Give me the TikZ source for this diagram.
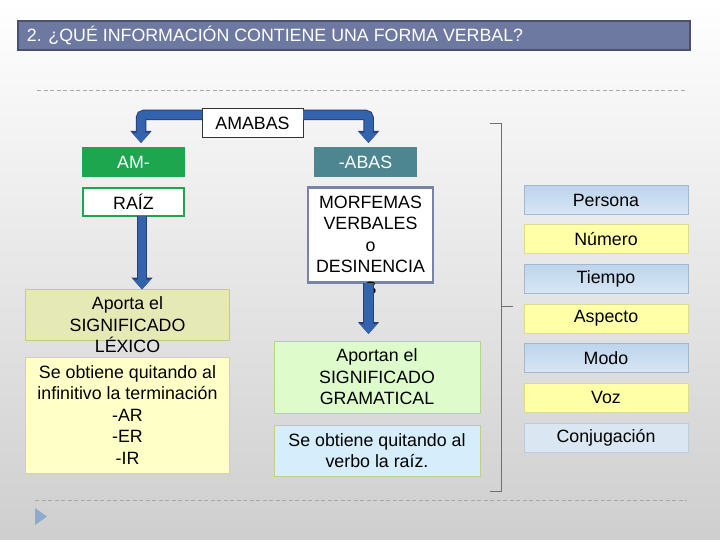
\documentclass[tikz,border=0pt]{standalone}
\usepackage{fontspec}
\setmainfont{Liberation Sans}
\usetikzlibrary{arrows.meta}
\definecolor{titlefill}{HTML}{6D79A1}
\definecolor{titledraw}{HTML}{4A506E}
\definecolor{arrowblue}{HTML}{3463AE}
\definecolor{arrowdark}{HTML}{2A3F78}
\definecolor{amgreen}{HTML}{1EA64F}
\definecolor{abasteal}{HTML}{4D8690}
\definecolor{slate}{HTML}{7A82A8}
\definecolor{lexfill}{HTML}{E5E9B6}
\definecolor{lexdraw}{HTML}{C5CC86}
\definecolor{yelfill}{HTML}{FFFFC8}
\definecolor{yeldraw}{HTML}{D4D68A}
\definecolor{gramfill}{HTML}{DEFCCB}
\definecolor{gramdraw}{HTML}{B5D58A}
\definecolor{skyfill}{HTML}{D6EDFB}
\definecolor{skydraw}{HTML}{BFCF86}
\definecolor{bluefillA}{HTML}{BDD4EC}
\definecolor{bluefillB}{HTML}{D8E6F4}
\definecolor{bluedraw}{HTML}{A0B8D2}
\definecolor{yellowbox}{HTML}{FFFFA8}
\definecolor{yellowdraw}{HTML}{DCDC8C}
\definecolor{conjfill}{HTML}{DAE6F1}
\definecolor{conjdraw}{HTML}{B8CDE0}
\definecolor{dashgray}{HTML}{A8A8A8}
\definecolor{brack}{HTML}{707070}
\definecolor{trifill}{HTML}{8FAACB}
\tikzset{
  every node/.style={inner sep=0pt, outer sep=0pt, font=\fontsize{17.8}{21.5}\selectfont},
  plainbox/.style={draw, rectangle, align=center},
  txt/.style={align=center, font=\fontsize{17.8}{21.5}\selectfont},
  bigarrow/.style={line width=8.5pt, arrowblue, rounded corners=3pt,
     -{Triangle[length=10pt,width=17pt]},
     preaction={draw=arrowdark, line width=10.5pt, -{Triangle[length=12pt,width=20.5pt]}}},
  bluebox/.style={draw=bluedraw, line width=0.8pt, top color=bluefillA, bottom color=bluefillB, shading angle=0, minimum width=164pt, minimum height=29pt},
  yelbox/.style={draw=yellowdraw, line width=0.8pt, fill=yellowbox, minimum width=164pt, minimum height=29pt},
}
\begin{document}
\begin{tikzpicture}[x=1pt,y=-1pt]
% background
\shade[top color=white, bottom color=black!19] (0,0) rectangle (720,540);
\useasboundingbox (0,0) rectangle (720,540);
% title
\node[draw=titledraw, line width=1.6pt, fill=titlefill, minimum width=672pt, minimum height=29pt, anchor=north west] (title) at (18,21) {};
\node[anchor=west, text=white, font=\fontsize{17.8}{20}\selectfont] (titletext) at (27,35.5) {2. ¿QUÉ INFORMACIÓN CONTIENE UNA FORMA VERBAL?};
% dashed lines
\coordinate (d1a) at (37,90); \coordinate (d1b) at (686,90);
\coordinate (d2a) at (35,500); \coordinate (d2b) at (687,500);
\draw[dashgray, dash pattern=on 4pt off 2.5pt, line width=0.7pt] (d1a) -- (d1b);
\draw[dashgray, dash pattern=on 4pt off 2.5pt, line width=0.7pt] (d2a) -- (d2b);
% triangle
\fill[trifill] (35,508) -- (47,516.5) -- (35,525) -- cycle;
% AMABAS
\node[plainbox, draw=black!80, fill=white, line width=0.8pt, minimum width=101pt, minimum height=29pt] (amabas) at (252.5,123) {AMABAS};
% AM- and -ABAS
\node[fill=amgreen, text=white, minimum width=103pt, minimum height=30pt] (am) at (133.5,162) {AM-};
\node[fill=abasteal, text=white, minimum width=103pt, minimum height=30pt] (abas) at (365.5,162) {-ABAS};
% arrows from AMABAS
\draw[bigarrow] ([yshift=8pt]amabas.west) -| ([xshift=7.5pt,yshift=4pt]am.north);
\draw[bigarrow] ([yshift=8pt]amabas.east) -| ([xshift=3pt,yshift=4pt]abas.north);
% RAIZ
\node[plainbox, draw=amgreen, fill=white, line width=2pt, minimum width=101pt, minimum height=28pt] (raiz) at (133.5,202) {RAÍZ};
% MORFEMAS box
\node[draw=slate, fill=white, line width=2.2pt, minimum width=125pt, minimum height=95pt] (morf) at (370.5,235) {};
% left boxes
\node[draw=lexdraw, fill=lexfill, line width=0.8pt, minimum width=204pt, minimum height=51pt] (lex) at (127.5,315) {};
\node[draw=yeldraw, fill=yelfill, line width=0.8pt, minimum width=204pt, minimum height=116pt, align=center] (inf) at (127.5,415) {Se obtiene quitando al\\infinitivo la terminación\\-AR\\-ER\\-IR};
% right boxes
\node[draw=gramdraw, fill=gramfill, line width=0.8pt, minimum width=206pt, minimum height=72pt, align=center] (gram) at (377,377) {Aportan el\\SIGNIFICADO\\GRAMATICAL};
\node[draw=skydraw, fill=skyfill, line width=0.8pt, minimum width=206pt, minimum height=51pt, align=center] (raizq) at (377,450.5) {Se obtiene quitando al\\verbo la raíz.};
% down arrows
\draw[bigarrow] ([xshift=8.5pt]raiz.south) -- ([xshift=8.5pt]lex.north -| raiz.south);
% texts overflowing their boxes
\node[txt] (morftext) at (370.5,245) {MORFEMAS\\VERBALES\\o\\DESINENCIA\\S};
\node[txt] (lextext) at (127.5,325) {Aporta el\\SIGNIFICADO\\LÉXICO};
% arrow over the S
\draw[bigarrow] ([xshift=-2pt]morf.south) -- ([xshift=-2pt,yshift=7pt]gram.north -| morf.south);
% bracket
\coordinate (b1) at (490,123); \coordinate (b2) at (501,123);
\coordinate (b3) at (501,491); \coordinate (b4) at (490,491);
\coordinate (bm) at (501,306); \coordinate (bt) at (513,306);
\draw[brack, line width=0.9pt] (b1) -- (b2) -- (b3) -- (b4);
\draw[brack, line width=0.9pt] (bm) -- (bt);
% attribute boxes
\node[bluebox] (persona) at (606,200) {Persona};
\node[yelbox] (numero) at (606,239) {Número};
\node[bluebox] (tiempo) at (606,278.5) {Tiempo};
\node[yelbox] (aspecto) at (606,318.5) {Aspecto};
\node[bluebox] (modo) at (606,358) {Modo};
\node[yelbox] (voz) at (606,397.5) {Voz};
\node[draw=conjdraw, line width=0.8pt, fill=conjfill, minimum width=164pt, minimum height=29pt] (conj) at (606,437.5) {Conjugación};
\end{tikzpicture}
\end{document}
